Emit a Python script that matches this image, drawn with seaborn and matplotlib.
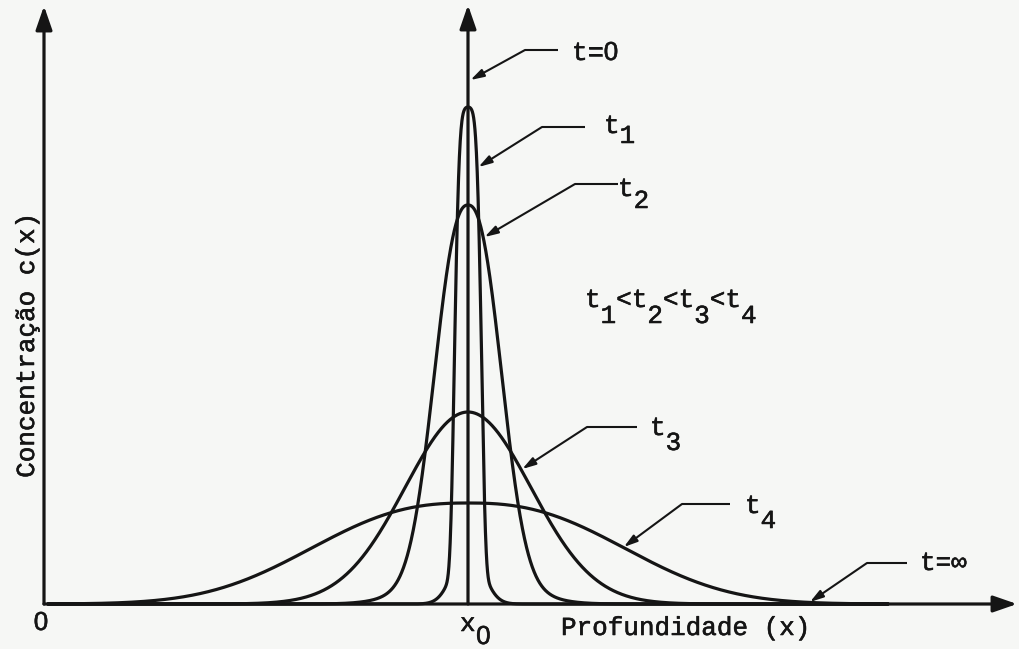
import numpy as np
import pandas as pd
import matplotlib
matplotlib.use("Agg")
import matplotlib.pyplot as plt
import matplotlib.patheffects as pe
import seaborn as sns

# Concentration profiles c(x) spreading around the depth x0 as time grows
curve_names = ["t1", "t2", "t3", "t4"]
peak_height = [497, 399, 192, 101]      # maximum concentration of each profile
spread = [14.5, 42, 89, 193]            # width of the central body
shape_exp = [4.5, 2.4, 2.0, 2.5]        # flatness of the central body
foot_share = [0.12, 0.12, 0.0, 0.0]     # part of the peak carried by the wide foot
foot_width = [20, 60, 1, 1]             # width of the foot
x0 = 424                                # depth of the initial spike (t=0)
spike_top = 599                         # t=0 drawn as a vertical arrow
depth_end = 973                         # end of the depth axis
conc_end = 598                          # end of the concentration axis

INK = "#151515"
BG = "#f6f7f5"
FS = 18.7
CELL = 15.6          # advance of one monospaced character, in data units
ZERO_FONT = ["Liberation Sans", "DejaVu Sans"]   # plain, undotted zero

sns.set_theme(style="white")
plt.rcParams["font.family"] = ["Liberation Mono", "DejaVu Sans Mono", "DejaVu Sans"]

# build a long-form table of all profiles
x = np.linspace(x0 - 420, x0 + 420, 4001)
profiles = {}
rows = []
for name, h, w, p, a, wf in zip(curve_names, peak_height, spread, shape_exp,
                                foot_share, foot_width):
    u = np.abs(x - x0)
    c = h * ((1 - a) * np.exp(-(u / w) ** p) + a * np.exp(-(u / wf) ** 2))
    profiles[name] = c
    rows.append(pd.DataFrame({"x": x, "c": c, "curve": name}))
df = pd.concat(rows, ignore_index=True)

fig = plt.figure(figsize=(10.19, 6.49), dpi=100)
fig.patch.set_facecolor(BG)
ax = fig.add_axes([0, 0, 1, 1])
ax.set_xlim(-44, 975)
ax.set_ylim(-45, 604)
ax.axis("off")

sns.lineplot(data=df, x="x", y="c", units="curve", estimator=None,
             color=INK, lw=2.3, ax=ax, legend=False, sort=False)

big_head = dict(arrowstyle="-|>,head_length=0.72,head_width=0.25",
                mutation_scale=20, lw=2.3, color=INK, shrinkA=0, shrinkB=0)
small_head = dict(arrowstyle="-|>,head_length=0.4,head_width=0.12",
                  mutation_scale=20, lw=1.5, color=INK, shrinkA=0, shrinkB=0)

# axes with arrow heads
ax.annotate("", xy=(depth_end, 0), xytext=(0, 0), arrowprops=big_head)
ax.annotate("", xy=(0, conc_end), xytext=(0, 0), arrowprops=big_head)
# initial spike at x0
ax.annotate("", xy=(x0, spike_top), xytext=(x0, 0), arrowprops=big_head)

ink_fx = [pe.withStroke(linewidth=0.4, foreground=INK)]


def write(xp, yp, s, **kw):
    ax.text(xp, yp, s, fontsize=FS, color=INK, va="baseline",
            path_effects=ink_fx, **kw)


def write_char(xp, yp, s):
    """One character centred in its monospaced cell starting at xp."""
    if s == "0":
        write(xp + CELL / 2, yp, s, ha="center", family=ZERO_FONT)
    else:
        write(xp + CELL / 2, yp, s, ha="center")


def sub_label(xp, yp, drop, parts):
    """Typewriter style label: letters on the line, digits half a line lower."""
    for k, (s, lowered) in enumerate(parts):
        write_char(xp + k * CELL, yp - drop if lowered else yp, s)


def right_side(name, level):
    """Depth where a profile falls to the given concentration (right flank)."""
    right = x >= x0
    return np.interp(level, profiles[name][right][::-1], x[right][::-1])


def leader(x_start, x_end, y, tip):
    ax.plot([x_start, x_end], [y, y], color=INK, lw=1.5, solid_capstyle="butt")
    ax.annotate("", xy=tip, xytext=(x_start, y), arrowprops=small_head)


# labels with leader lines
leader(481, 514, 554, (426.5, 524))
sub_label(528, 544, 0, [("t", False), ("=", False), ("0", False)])

leader(498, 541, 477, (right_side("t1", 437) + 1.5, 437))
sub_label(560, 471, 10, [("t", False), ("1", True)])

leader(531, 574, 420, (right_side("t2", 367) + 1.5, 367))
sub_label(574, 408, 12, [("t", False), ("2", True)])

sub_label(541, 297, 16, [("t", False), ("1", True), ("<", False),
                         ("t", False), ("2", True), ("<", False),
                         ("t", False), ("3", True), ("<", False),
                         ("t", False), ("4", True)])

leader(543, 593, 177, (right_side("t3", 135) + 1.5, 135))
sub_label(606, 169, 15, [("t", False), ("3", True)])

leader(638, 686, 100, (right_side("t4", 57) + 1.5, 57))
sub_label(701, 91, 15, [("t", False), ("4", True)])

leader(823, 863, 41, (766, 2))
write(876, 34, "t=\u221e", ha="left")

# axis annotations
write_char(-3 - CELL / 2, -26, "0")
sub_label(416, -27, 13, [("x", False), ("0", True)])
write(517, -31, "Profundidade (x)", ha="left")
ax.text(-17, 259, "Concentração c(x)", fontsize=FS, color=INK,
        rotation=90, va="center", ha="center", path_effects=ink_fx)

fig.savefig("out.png", dpi=100, facecolor=BG)
